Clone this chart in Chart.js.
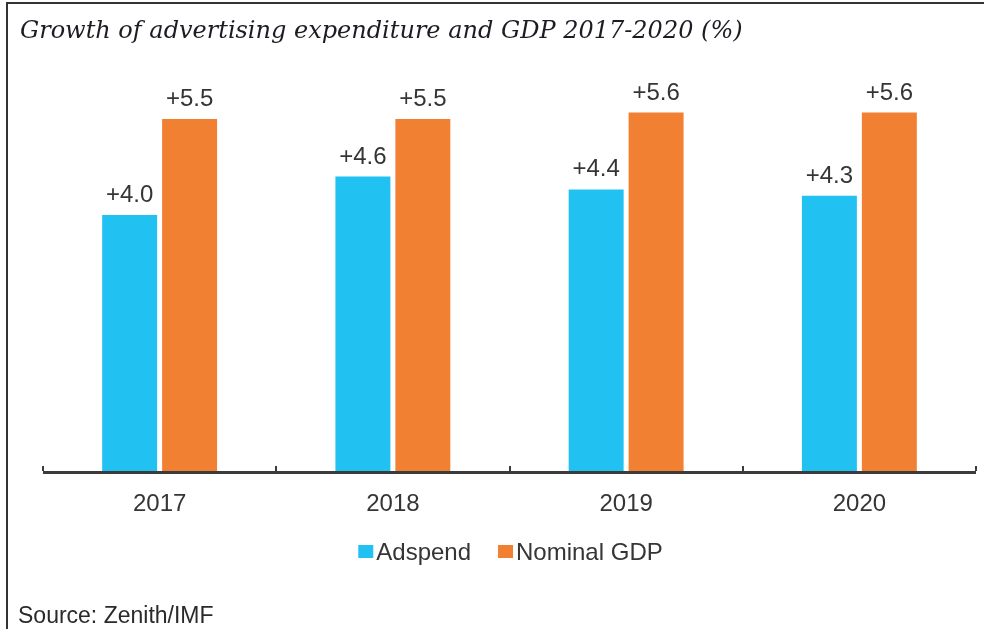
<!DOCTYPE html>
<html>
<head>
<meta charset="utf-8">
<script src="https://cdn.jsdelivr.net/npm/chart.js@4.4.1/dist/chart.umd.min.js"></script>
<style>
  html, body { margin: 0; padding: 0; background: #fff; }
  #wrap { position: relative; width: 984px; height: 629px; overflow: hidden; }
  #frame { position: absolute; left: 6px; top: 2px; right: 0; bottom: 0;
           border-top: 2px solid #333; border-left: 2px solid #333; pointer-events: none; }
  canvas { position: absolute; left: 0; top: 0; }
</style>
</head>
<body>
<div id="wrap">
  <canvas id="c" width="984" height="629"></canvas>
  <div id="frame"></div>
</div>
<script>
const titleText = 'Growth of advertising expenditure and GDP 2017-2020 (%)';
const sourceText = 'Source: Zenith/IMF';
const categories = ['2017', '2018', '2019', '2020'];
const adspend = [4.0, 4.6, 4.4, 4.3];
const nominalGdp = [5.5, 5.5, 5.6, 5.6];
const seriesNames = ['Adspend', 'Nominal GDP'];
const seriesColors = ['#21C2F2', '#F28033'];

const TEXT = '#353535';
const SANS = '"Liberation Sans", Arial, sans-serif';

const decor = {
  id: 'decor',
  afterDraw(chart) {
    const ctx = chart.ctx;
    const a = chart.chartArea;
    const xs = chart.scales.x;
    const n = categories.length;
    ctx.save();

    // title
    ctx.fillStyle = '#1c1c24';
    ctx.font = 'italic 24px "DejaVu Serif", "Liberation Serif", serif';
    ctx.textAlign = 'left';
    ctx.textBaseline = 'alphabetic';
    ctx.fillText(titleText, 20, 38);

    // axis line
    ctx.fillStyle = '#3b3b3b';
    ctx.fillRect(a.left, a.bottom, a.right - a.left, 3);
    // ticks at category boundaries
    const step = (a.right - a.left) / n;
    for (let i = 0; i <= n; i++) {
      const x = Math.round(a.left + i * step);
      ctx.fillRect(x - 1, a.bottom - 5, 2, 5);
    }

    // category labels
    ctx.fillStyle = TEXT;
    ctx.font = '24px ' + SANS;
    ctx.textAlign = 'center';
    categories.forEach((c, i) => {
      ctx.fillText(c, xs.getPixelForValue(i), a.bottom + 40);
    });

    // value labels
    ctx.font = '24px ' + SANS;
    chart.data.datasets.forEach((ds, di) => {
      const meta = chart.getDatasetMeta(di);
      meta.data.forEach((bar, i) => {
        ctx.fillText('+' + ds.data[i].toFixed(1), bar.x, bar.y - 13);
      });
    });

    // legend
    ctx.font = '24px ' + SANS;
    ctx.textAlign = 'left';
    const box = 15, gapText = 3, gapItem = 27;
    const widths = seriesNames.map(s => box + gapText + ctx.measureText(s).width);
    const total = widths.reduce((p, q) => p + q, 0) + gapItem * (seriesNames.length - 1);
    let lx = (a.left + a.right) / 2 - total / 2 + 1;
    const ly = a.bottom + 74;
    seriesNames.forEach((s, i) => {
      ctx.fillStyle = seriesColors[i];
      ctx.fillRect(lx, ly, box, 13);
      ctx.fillStyle = TEXT;
      ctx.fillText(s, lx + box + gapText, ly + 15);
      lx += widths[i] + gapItem;
    });

    // source
    ctx.font = '23px ' + SANS;
    ctx.fillStyle = '#2a2a2a';
    ctx.fillText(sourceText, 18, 623);
    ctx.restore();
  }
};

new Chart(document.getElementById('c'), {
  type: 'bar',
  data: {
    labels: categories,
    datasets: [
      { label: seriesNames[0], data: adspend, backgroundColor: seriesColors[0] },
      { label: seriesNames[1], data: nominalGdp, backgroundColor: seriesColors[1] }
    ]
  },
  options: {
    responsive: false,
    animation: false,
    devicePixelRatio: 1,
    categoryPercentage: 0.514,
    barPercentage: 0.917,
    layout: { padding: { left: 43, right: 8, top: 55, bottom: 158 } },
    scales: {
      x: { display: false },
      y: { display: false, min: 0, max: 6.5 }
    },
    plugins: { legend: { display: false }, tooltip: { enabled: false }, title: { display: false } }
  },
  plugins: [decor]
});
</script>
</body>
</html>
